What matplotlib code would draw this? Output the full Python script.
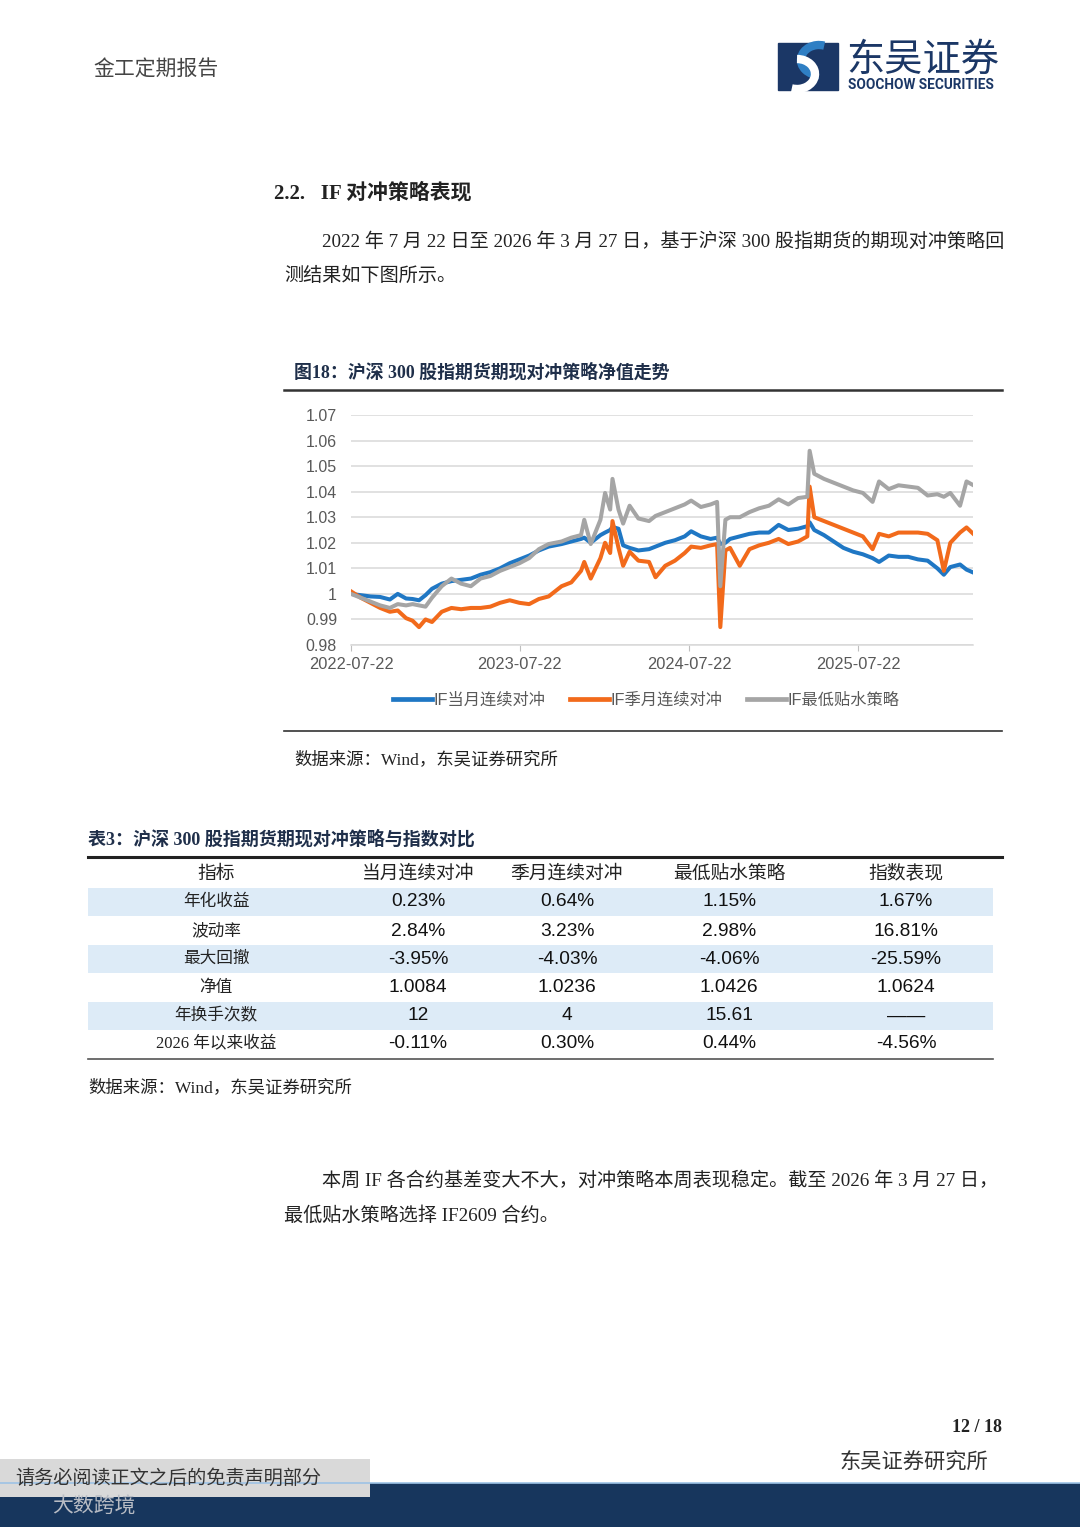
import pandas as pd
import matplotlib
matplotlib.use('Agg')
from matplotlib import pyplot as plt
from matplotlib import patches

# ---- chart data ----
dates = [
    '2022-07-22', '2022-08-12', '2022-09-02', '2022-09-23', '2022-10-14', '2022-10-31',
    '2022-11-18', '2022-12-02', '2022-12-16', '2022-12-30', '2023-01-13', '2023-02-03',
    '2023-02-24', '2023-03-17', '2023-04-07', '2023-04-28', '2023-05-19', '2023-06-09',
    '2023-06-30', '2023-07-21', '2023-08-11', '2023-09-01', '2023-09-22', '2023-10-20',
    '2023-11-10', '2023-12-01', '2023-12-08', '2023-12-22', '2024-01-12', '2024-01-22',
    '2024-02-02', '2024-02-07', '2024-02-20', '2024-03-01', '2024-03-15', '2024-04-03',
    '2024-04-26', '2024-05-10', '2024-05-31', '2024-06-21', '2024-07-12', '2024-07-26',
    '2024-08-16', '2024-09-06', '2024-09-20', '2024-09-27', '2024-10-08', '2024-10-18',
    '2024-11-08', '2024-11-29', '2024-12-20', '2025-01-10', '2025-01-31', '2025-02-21',
    '2025-03-14', '2025-04-03', '2025-04-08', '2025-04-18', '2025-05-09', '2025-05-30',
    '2025-06-20', '2025-07-11', '2025-08-01', '2025-08-22', '2025-09-05', '2025-09-26',
    '2025-10-17', '2025-11-07', '2025-11-28', '2025-12-19', '2026-01-09', '2026-01-23',
    '2026-02-06', '2026-02-27', '2026-03-13', '2026-03-27',
]
if_month = [
    1.0000, 0.9995, 0.9990, 0.9988, 0.9978, 1.0000, 0.9982, 0.9980, 0.9975, 0.9995,
    1.0020, 1.0040, 1.0050, 1.0055, 1.0060, 1.0075, 1.0085, 1.0100, 1.0120, 1.0135,
    1.0150, 1.0170, 1.0185, 1.0195, 1.0205, 1.0215, 1.0220, 1.0200, 1.0230, 1.0240,
    1.0250, 1.0262, 1.0255, 1.0190, 1.0180, 1.0170, 1.0175, 1.0185, 1.0200, 1.0210,
    1.0225, 1.0245, 1.0225, 1.0215, 1.0220, 1.0195, 1.0200, 1.0215, 1.0225, 1.0235,
    1.0240, 1.0240, 1.0270, 1.0250, 1.0255, 1.0265, 1.0280, 1.0250, 1.0230, 1.0205,
    1.0180, 1.0165, 1.0155, 1.0140, 1.0125, 1.0150, 1.0145, 1.0145, 1.0135, 1.0130,
    1.0100, 1.0075, 1.0105, 1.0115, 1.0095, 1.0084,
]
if_quarter = [
    1.0010, 0.9985, 0.9965, 0.9945, 0.9930, 0.9935, 0.9905, 0.9895, 0.9870, 0.9900,
    0.9890, 0.9930, 0.9945, 0.9940, 0.9945, 0.9945, 0.9950, 0.9965, 0.9975, 0.9965,
    0.9960, 0.9980, 0.9990, 1.0030, 1.0045, 1.0090, 1.0125, 1.0060, 1.0140, 1.0200,
    1.0160, 1.0285, 1.0180, 1.0110, 1.0165, 1.0130, 1.0125, 1.0065, 1.0110, 1.0130,
    1.0160, 1.0185, 1.0180, 1.0190, 1.0195, 0.9870, 1.0170, 1.0180, 1.0110, 1.0175,
    1.0190, 1.0200, 1.0215, 1.0195, 1.0205, 1.0225, 1.0420, 1.0300, 1.0285, 1.0270,
    1.0255, 1.0240, 1.0225, 1.0175, 1.0235, 1.0225, 1.0240, 1.0240, 1.0240, 1.0235,
    1.0210, 1.0090, 1.0200, 1.0240, 1.0260, 1.0236,
]
if_min_basis = [
    1.0000, 0.9985, 0.9970, 0.9955, 0.9945, 0.9960, 0.9955, 0.9960, 0.9955, 0.9950,
    0.9985, 1.0030, 1.0060, 1.0040, 1.0030, 1.0060, 1.0070, 1.0090, 1.0105, 1.0120,
    1.0140, 1.0175, 1.0195, 1.0205, 1.0220, 1.0230, 1.0290, 1.0195, 1.0290, 1.0395,
    1.0330, 1.0450, 1.0330, 1.0275, 1.0345, 1.0295, 1.0285, 1.0305, 1.0320, 1.0335,
    1.0350, 1.0365, 1.0340, 1.0350, 1.0360, 1.0030, 1.0290, 1.0300, 1.0300, 1.0320,
    1.0335, 1.0345, 1.0370, 1.0350, 1.0375, 1.0380, 1.0560, 1.0470, 1.0450, 1.0435,
    1.0420, 1.0405, 1.0395, 1.0360, 1.0440, 1.0410, 1.0425, 1.0420, 1.0415, 1.0385,
    1.0390, 1.0380, 1.0395, 1.0345, 1.0440, 1.0426,
]
series_names = ['IF当月连续对冲', 'IF季月连续对冲', 'IF最低贴水策略']
x_ticks = ['2022-07-22', '2023-07-22', '2024-07-22', '2025-07-22']
y_ticks = [0.98, 0.99, 1.00, 1.01, 1.02, 1.03, 1.04, 1.05, 1.06, 1.07]
y_tick_labels = ['0.98', '0.99', '1', '1.01', '1.02', '1.03', '1.04', '1.05', '1.06', '1.07']

# ---- table data ----
table_columns = ['指标', '当月连续对冲', '季月连续对冲', '最低贴水策略', '指数表现']
table_rows = ['年化收益', '波动率', '最大回撤', '净值', '年换手次数', '2026 年以来收益']
col_month = ['0.23%', '2.84%', '-3.95%', '1.0084', '12', '-0.11%']
col_quarter = ['0.64%', '3.23%', '-4.03%', '1.0236', '4', '0.30%']
col_min_basis = ['1.15%', '2.98%', '-4.06%', '1.0426', '15.61', '0.44%']
col_index = ['1.67%', '16.81%', '-25.59%', '1.0624', '——', '-4.56%']

CJK = ['Noto Sans CJK SC', 'DejaVu Sans']
SERIF = ['Liberation Serif', 'Noto Sans CJK SC']
SANS = ['Liberation Sans', 'Noto Sans CJK SC']
NAVY = '#1b3766'
TXT = '#222222'

W, H = 1080, 1527
fig = plt.figure(figsize=(W / 100, H / 100), dpi=100)

# page layer in pixel coordinates
bg = fig.add_axes([0, 0, 1, 1])
bg.set_xlim(0, W)
bg.set_ylim(H, 0)
bg.axis('off')

# header
bg.text(93, 70, '金工定期报告', family=CJK, fontsize=15, color='#444444', va='center')
bg.add_patch(patches.Rectangle((778, 43), 60, 47, color=NAVY))
bg.add_patch(patches.Arc((819, 60), 36, 30, theta1=90, theta2=290, lw=6, color='#2f7fc4'))
bg.add_patch(patches.Arc((797, 74), 36, 30, theta1=270, theta2=110, lw=6, color='white'))
bg.text(846, 60, '东吴证券', family=CJK, fontsize=27.5, color=NAVY, va='center')
bg.text(848, 85, 'SOOCHOW SECURITIES', family=['Roboto', 'DejaVu Sans'], fontsize=9.8,
        weight='bold', color=NAVY, va='center')

# section text
bg.text(274, 193, '2.2.   IF 对冲策略表现', family=SERIF, fontsize=15, weight='bold',
        color=TXT, va='center')
bg.text(322, 242, '2022 年 7 月 22 日至 2026 年 3 月 27 日，基于沪深 300 股指期货的期现对冲策略回',
        family=SERIF, fontsize=13.75, color=TXT, va='center')
bg.text(284, 276, '测结果如下图所示。', family=SERIF, fontsize=13.75, color=TXT, va='center')

# figure title and frame lines
bg.text(294, 372, '图18：沪深 300 股指期货期现对冲策略净值走势', family=SERIF, fontsize=12.9,
        weight='bold', color='#1f2f4a', va='center')
bg.plot([284, 1002], [390, 390], color='#333333', lw=1.8)
bg.plot([284, 1002], [731, 731], color='#333333', lw=1.2)
bg.text(294, 760, '数据来源：Wind，东吴证券研究所', family=SERIF, fontsize=12.5, color=TXT, va='center')

# table
bg.text(88, 839, '表3：沪深 300 股指期货期现对冲策略与指数对比', family=SERIF, fontsize=13,
        weight='bold', color='#1f2f4a', va='center')
bg.plot([88, 1002], [857, 857], color='#222222', lw=2.2)
col_x = [216, 418, 567, 729, 906]
row_y = [902, 931, 959, 988, 1016, 1044]
for i, y in enumerate(row_y):
    if i % 2 == 0:
        bg.add_patch(patches.Rectangle((88, y - 14), 905, 28, color='#ddebf7', lw=0))
for x, name in zip(col_x, table_columns):
    bg.text(x, 873, name, family=CJK, fontsize=13.5, color=TXT, ha='center', va='center')
columns = [col_month, col_quarter, col_min_basis, col_index]
for j, y in enumerate(row_y):
    bg.text(col_x[0], y, table_rows[j], family=SERIF, fontsize=12, color=TXT,
            ha='center', va='center')
    for k, col in enumerate(columns):
        bg.text(col_x[k + 1], y, col[j], family=SANS, fontsize=13.8, color='#111111',
                ha='center', va='center')
bg.plot([88, 993], [1059, 1059], color='#555555', lw=1.2)
bg.text(88, 1088, '数据来源：Wind，东吴证券研究所', family=SERIF, fontsize=12.5, color=TXT, va='center')

# closing paragraph
bg.text(322, 1181, '本周 IF 各合约基差变大不大，对冲策略本周表现稳定。截至 2026 年 3 月 27 日，',
        family=SERIF, fontsize=13.75, color=TXT, va='center')
bg.text(284, 1216, '最低贴水策略选择 IF2609 合约。', family=SERIF, fontsize=13.75, color=TXT, va='center')

# footer
bg.text(1002, 1427, '12 / 18', family=SERIF, fontsize=13, weight='bold', color=TXT,
        ha='right', va='center')
bg.text(988, 1463, '东吴证券研究所', family=CJK, fontsize=15.3, color='#333333', ha='right', va='center')
bg.add_patch(patches.Rectangle((0, 1483), W, 44, color='#17365d', lw=0))
bg.plot([0, W], [1483, 1483], color='#9dc3e6', lw=1.2)
bg.add_patch(patches.Rectangle((0, 1459), 370, 38, color='#d9d9d9', lw=0))
bg.text(15, 1478, '请务必阅读正文之后的免责声明部分', family=CJK, fontsize=13.8, color='#333333', va='center')
bg.text(52, 1507, '大数跨境', family=CJK, fontsize=15, color='#b8bcc4', va='center')

# ---- the chart ----
ax = fig.add_axes([351 / W, 1 - 645 / H, (973 - 351) / W, 230 / H])
t = pd.to_datetime(dates)
colors = ['#1f77c4', '#f26a1b', '#a5a5a5']
for vals, name, c in zip([if_month, if_quarter, if_min_basis], series_names, colors):
    ax.plot(t, vals, color=c, lw=2.9, label=name, solid_joinstyle='round')

ax.set_xlim(pd.Timestamp(dates[0]), pd.Timestamp(dates[-1]))
ax.set_ylim(0.98, 1.07)
ax.set_yticks(y_ticks)
ax.set_yticklabels(y_tick_labels)
ax.set_xticks(pd.to_datetime(x_ticks))
ax.set_xticklabels(x_ticks)
ax.grid(axis='y', color='#d9d9d9', lw=1.1)
ax.set_axisbelow(True)
for s in ['top', 'right', 'left']:
    ax.spines[s].set_visible(False)
ax.spines['bottom'].set_color('#d9d9d9')
ax.spines['bottom'].set_linewidth(1.1)
ax.tick_params(axis='y', length=0, pad=10, labelsize=11.5, labelcolor='#595959')
ax.tick_params(axis='x', length=4, color='#bfbfbf', pad=5, labelsize=11.8, labelcolor='#595959')
for lab in ax.get_xticklabels() + ax.get_yticklabels():
    lab.set_family(SANS)

leg = ax.legend(loc='center', bbox_to_anchor=(646 / W, 1 - 700 / H), bbox_transform=fig.transFigure,
                ncol=3, frameon=False, handlelength=2.4, handletextpad=0.1, columnspacing=1.5,
                prop={'family': SANS, 'size': 11.7})
for line in leg.get_lines():
    line.set_linewidth(3.4)
for txt in leg.get_texts():
    txt.set_color('#595959')

fig.savefig('out.png', dpi=100, facecolor='white')
